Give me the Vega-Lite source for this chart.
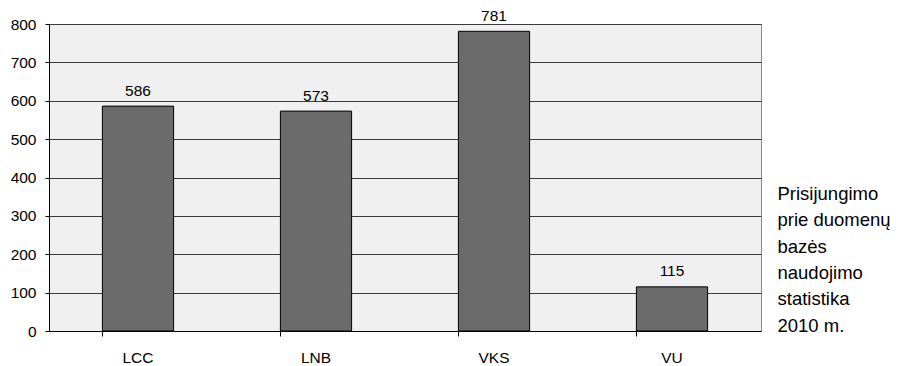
{
  "$schema": "https://vega.github.io/schema/vega-lite/v6.json",
  "width": 712,
  "height": 307,
  "autosize": "none",
  "padding": {"left": 49, "top": 24, "right": 141, "bottom": 35},
  "background": "white",
  "config": {
    "font": "Liberation Sans",
    "view": {"fill": "#f0f0f0", "stroke": "#888888", "strokeWidth": 1}
  },
  "data": {
    "values": [
      {"lib": "LCC", "count": 586},
      {"lib": "LNB", "count": 573},
      {"lib": "VKS", "count": 781},
      {"lib": "VU", "count": 115}
    ]
  },
  "encoding": {
    "x": {
      "field": "lib",
      "type": "nominal",
      "sort": null,
      "scale": {"paddingInner": 0.6, "paddingOuter": 0.3},
      "axis": {
        "title": null,
        "labelAngle": 0,
        "bandPosition": 0,
        "tickSize": 5,
        "tickColor": "#000000",
        "domainColor": "#000000",
        "labelPadding": 26,
        "labelBaseline": "alphabetic",
        "labelFontSize": 15.5,
        "labelColor": "#000000",
        "grid": false
      }
    }
  },
  "layer": [
    {
      "mark": {"type": "bar", "color": "#6b6b6b", "stroke": "#000000", "strokeWidth": 1},
      "encoding": {
        "y": {
          "field": "count",
          "type": "quantitative",
          "scale": {"domain": [0, 800], "nice": false},
          "axis": {
            "title": null,
            "values": [0, 100, 200, 300, 400, 500, 600, 700, 800],
            "tickSize": 4,
            "tickColor": "#000000",
            "domainColor": "#000000",
            "labelPadding": 9,
            "labelFontSize": 15.5,
            "labelColor": "#000000",
            "grid": true,
            "gridColor": "#3a3a3a",
            "gridOpacity": 1
          }
        }
      }
    },
    {
      "mark": {"type": "text", "baseline": "alphabetic", "dy": -10.5, "fontSize": 15.5, "color": "#000000"},
      "encoding": {
        "y": {
          "field": "count",
          "type": "quantitative",
          "scale": {"domain": [0, 800], "nice": false},
          "axis": {
            "orient": "right",
            "title": ["Prisijungimo", "prie duomenų", "bazės", "naudojimo", "statistika", "2010 m."],
            "titleAngle": 0,
            "titleAlign": "left",
            "titleBaseline": "alphabetic",
            "titleX": 16,
            "titleY": 175.5,
            "titleLineHeight": 26.3,
            "titleFontSize": 18.5,
            "titleFontWeight": "normal",
            "titleFont": "Liberation Sans",
            "titleColor": "#000000",
            "domain": false,
            "ticks": false,
            "labels": false,
            "grid": false
          }
        },
        "text": {"field": "count", "type": "quantitative"}
      }
    }
  ],
  "resolve": {"axis": {"y": "independent"}}
}
